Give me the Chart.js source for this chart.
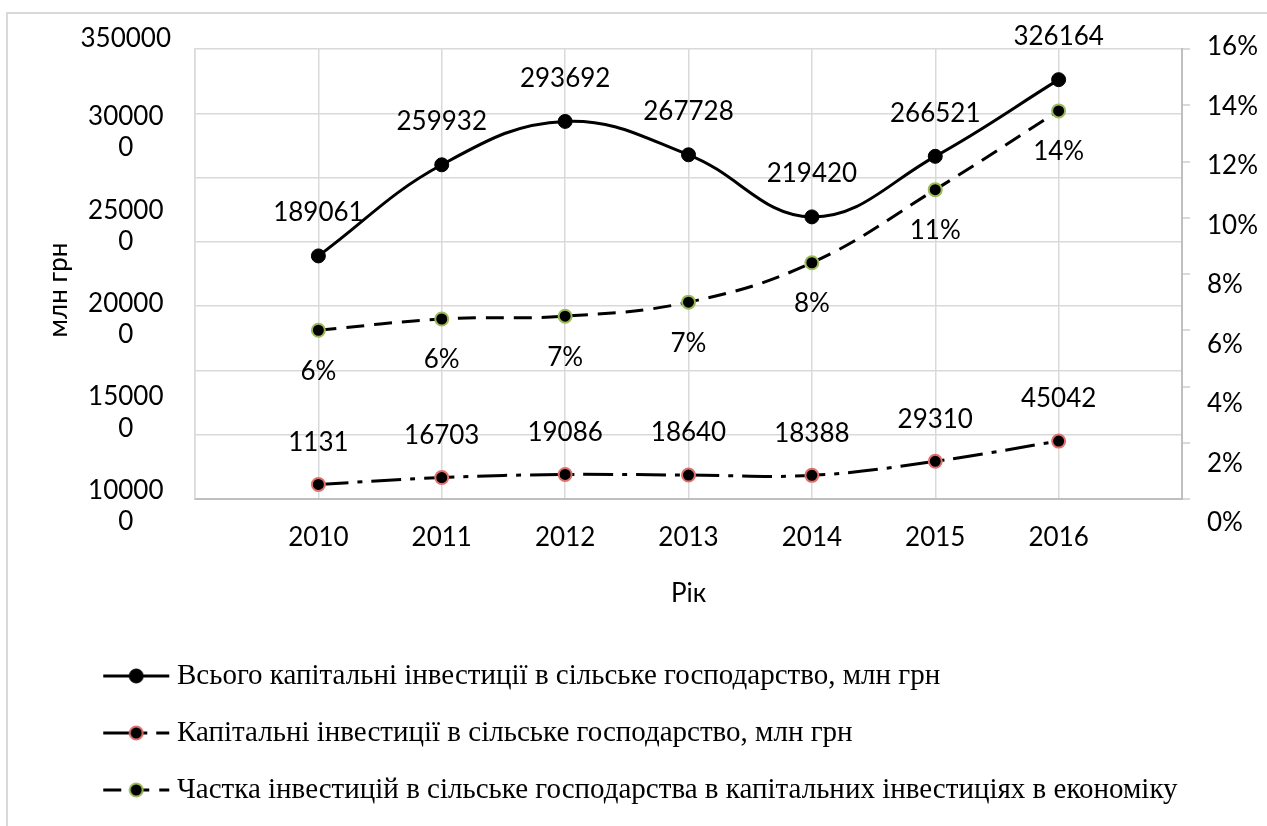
<!DOCTYPE html>
<html lang="uk">
<head>
<meta charset="utf-8">
<title>Капітальні інвестиції в сільське господарство</title>
<script src="https://cdn.jsdelivr.net/npm/chart.js@4.4.1/dist/chart.umd.min.js"></script>
<style>
  html, body { margin: 0; padding: 0; background: #fff; overflow: hidden; }
  canvas { position: absolute; left: 0; top: 0; }
  #frame { position: absolute; left: 6px; top: 12px; width: 1300px; height: 900px; border: 2px solid #d9d9d9; pointer-events: none; }
</style>
</head>
<body>
<canvas id="investChart" width="1267" height="826"></canvas>
<div id="frame"></div>
<script>
// ===============================
// Data
// ===============================
const years = [2010, 2011, 2012, 2013, 2014, 2015, 2016];
const totalInvest = [189061, 259932, 293692, 267728, 219420, 266521, 326164];
const agroInvest = [11311, 16703, 19086, 18640, 18388, 29310, 45042];
const agroShare = [6.0, 6.4, 6.5, 7.0, 8.4, 11.0, 13.8];

// labels as they appear on the picture (first one is cut off there)
const agroLabels = ["1131", "16703", "19086", "18640", "18388", "29310", "45042"];
const leftTickLabels = [["10000", "0"], ["15000", "0"], ["20000", "0"], ["25000", "0"], ["30000", "0"], "350000"];
const rightTickLabels = ["0%", "2%", "4%", "6%", "8%", "10%", "12%", "14%", "16%"];

Chart.defaults.font.family = "Lato";
Chart.defaults.font.size = 26;
Chart.defaults.color = "#000";

// legend symbol: line with the series dash and its marker in the middle
function legendIcon(ds) {
  const c = document.createElement("canvas");
  c.width = 150;
  c.height = 24;
  const g = c.getContext("2d");
  g.strokeStyle = ds.borderColor;
  g.lineWidth = ds.borderWidth;
  g.setLineDash(ds.borderDash || []);
  g.beginPath();
  g.moveTo(83, 12);
  g.lineTo(149, 12);
  g.stroke();
  g.setLineDash([]);
  g.beginPath();
  g.arc(116, 12, ds.pointRadius, 0, Math.PI * 2);
  g.fillStyle = ds.pointBackgroundColor;
  g.fill();
  g.lineWidth = ds.pointBorderWidth;
  g.strokeStyle = ds.pointBorderColor;
  g.stroke();
  return c;
}

// the tick labels in the source sit a bit off the grid, stretch those label axes
const axisShift = {
  id: "axisShift",
  afterLayout(chart) {
    const a = chart.chartArea;
    const move = (id, top, bottom) => {
      const s = chart.scales[id];
      s.top = top;
      s.bottom = bottom;
      s.height = bottom - top;
      s.configure();
    };
    move("yl", a.top - 10, a.bottom + 7);
    move("y1l", a.top - 2, a.bottom + 24);
    move("yt", a.top + 16, a.bottom + 16);
  }
};

// value labels next to each point
const pointLabels = {
  id: "pointLabels",
  afterDatasetsDraw(chart) {
    const ctx = chart.ctx;
    ctx.save();
    ctx.font = "26px Lato";
    ctx.fillStyle = "#000";
    ctx.textAlign = "center";
    ctx.textBaseline = "middle";
    chart.data.datasets.forEach((ds, i) => {
      chart.getDatasetMeta(i).data.forEach((pt, j) => {
        ctx.fillText(ds.valueLabels[j], pt.x, pt.y + ds.labelOffset);
      });
    });
    ctx.restore();
  }
};

new Chart(document.getElementById("investChart"), {
  type: "line",
  data: {
    labels: years,
    datasets: [
      {
        label: "Всього капітальні інвестиції в сільське господарство, млн грн",
        data: totalInvest,
        yAxisID: "y",
        borderColor: "#000",
        borderWidth: 3,
        tension: 0.4,
        pointRadius: 7,
        pointBackgroundColor: "#000",
        pointBorderColor: "#000",
        pointBorderWidth: 1,
        valueLabels: totalInvest.map(String),
        labelOffset: -43
      },
      {
        label: "Капітальні інвестиції в сільське господарство, млн грн",
        data: agroInvest,
        yAxisID: "y",
        borderColor: "#000",
        borderWidth: 3,
        borderDash: [30, 9, 5, 9],
        tension: 0.4,
        pointRadius: 6.5,
        pointBackgroundColor: "#000",
        pointBorderColor: "#e0706c",
        pointBorderWidth: 2,
        valueLabels: agroLabels,
        labelOffset: -42
      },
      {
        label: "Частка інвестицій в сільське господарства в капітальних інвестиціях в економіку",
        data: agroShare,
        yAxisID: "y1",
        borderColor: "#000",
        borderWidth: 3,
        borderDash: [18, 10],
        tension: 0.4,
        pointRadius: 6.5,
        pointBackgroundColor: "#000",
        pointBorderColor: "#9bbb59",
        pointBorderWidth: 2,
        valueLabels: agroShare.map(v => Math.round(v) + "%"),
        labelOffset: 41
      }
    ]
  },
  options: {
    responsive: false,
    animation: false,
    devicePixelRatio: 1,
    layout: { padding: { top: 49, bottom: 11.5, left: 0, right: 0 } },
    plugins: {
      tooltip: { enabled: false },
      legend: {
        position: "bottom",
        align: "start",
        labels: {
          usePointStyle: true,
          pointStyleWidth: 134.5,
          padding: 28,
          color: "#000",
          font: { family: "'Liberation Serif', serif", size: 29 },
          generateLabels: chart => chart.data.datasets.map((ds, i) => ({
            text: ds.label,
            pointStyle: legendIcon(ds),
            datasetIndex: i,
            fontColor: "#000",
            fillStyle: "transparent",
            strokeStyle: "transparent",
            lineWidth: 0,
            hidden: false
          }))
        }
      }
    },
    scales: {
      x: {
        type: "linear",
        min: 2009,
        max: 2017,
        ticks: {
          stepSize: 1,
          autoSkip: false,
          maxRotation: 0,
          padding: 23,
          callback: v => (years.includes(v) ? String(v) : "")
        },
        grid: { color: "#d9d9d9", lineWidth: 1.5, drawTicks: false },
        border: { color: "#bfbfbf", width: 2 },
        title: { display: true, text: "Рік", padding: { top: 0, bottom: 24 } },
        afterFit: s => { s.height = 134.5; }
      },
      y: {
        type: "linear",
        position: "left",
        min: 0,
        max: 350000,
        ticks: { stepSize: 50000, display: false },
        grid: { color: "#d9d9d9", lineWidth: 1.5, drawTicks: false },
        border: { color: "#d9d9d9", width: 1.5 }
      },
      yl: {
        type: "linear",
        position: "left",
        weight: 1,
        min: 100000,
        max: 350000,
        ticks: {
          stepSize: 50000,
          autoSkip: false,
          crossAlign: "center",
          padding: 24,
          callback: (v, i) => leftTickLabels[i]
        },
        grid: { display: false, drawTicks: false },
        border: { display: false },
        afterFit: s => { s.width = 115; }
      },
      yt: {
        type: "linear",
        position: "left",
        weight: 2,
        min: 0,
        max: 1,
        ticks: { display: false },
        grid: { display: false, drawTicks: false },
        border: { display: false },
        title: { display: true, text: "млн грн", padding: { top: 43, bottom: 0 } },
        afterFit: s => { s.width = 80; }
      },
      y1: {
        type: "linear",
        position: "right",
        min: 0,
        max: 16,
        ticks: { stepSize: 2, display: false },
        grid: { drawOnChartArea: false, color: "#d9d9d9", lineWidth: 2, tickLength: 8 },
        border: { color: "#bfbfbf", width: 2 }
      },
      y1l: {
        type: "linear",
        position: "right",
        weight: 1,
        min: 0,
        max: 16,
        ticks: {
          stepSize: 2,
          autoSkip: false,
          padding: 17,
          callback: (v, i) => rightTickLabels[i]
        },
        grid: { display: false, drawTicks: false },
        border: { display: false },
        afterFit: s => { s.width = 77; }
      }
    }
  },
  plugins: [axisShift, pointLabels]
});
</script>
</body>
</html>
